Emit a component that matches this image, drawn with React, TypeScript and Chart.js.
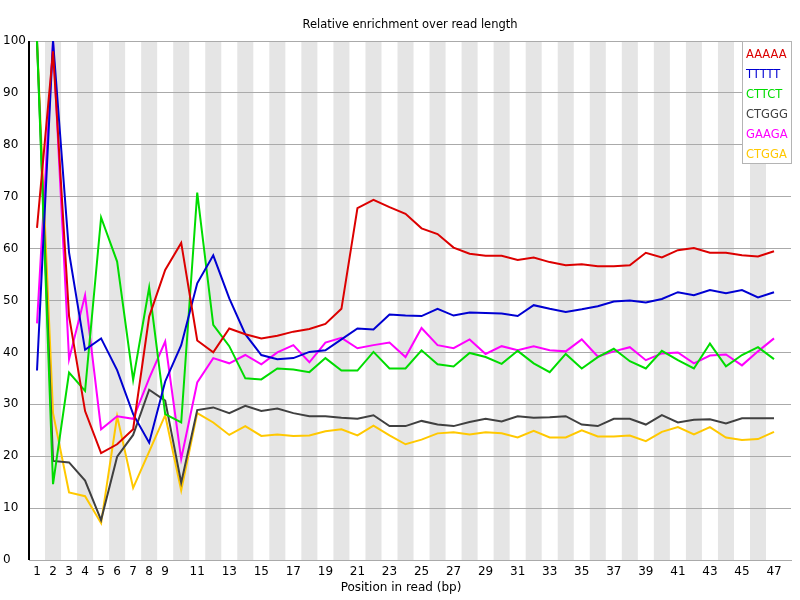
import React, { useEffect, useRef } from "react";
import { Chart, registerables } from "chart.js";

Chart.register(...registerables);

const positions = Array.from({ length: 47 }, (_, i) => i + 1);
const xTickValues = [1, 2, 3, 4, 5, 6, 7, 8, 9, 11, 13, 15, 17, 19, 21, 23, 25, 27, 29, 31, 33, 35, 37, 39, 41, 43, 45, 47];

const kmers = ["AAAAA", "TTTTT", "CTTCT", "CTGGG", "GAAGA", "CTGGA"];
const colors = ["#dc0000", "#0000d2", "#00dc00", "#404040", "#ff00ff", "#ffc800"];

const aaaaa = [64, 98, 47, 28.7, 20.6, 22.3, 25.2, 46.9, 55.9, 61.1, 42.3, 40, 44.6, 43.5, 42.7, 43.2, 44.0, 44.5, 45.5, 48.4, 67.8, 69.4, 68.0, 66.7, 63.9, 62.8, 60.2, 59.0, 58.6, 58.6, 57.8, 58.3, 57.4, 56.8, 57.0, 56.6, 56.6, 56.8, 59.2, 58.3, 59.7, 60.1, 59.2, 59.2, 58.7, 58.5, 59.5];
const ttttt = [36.5, 100, 59.2, 40.5, 42.7, 36.6, 28.1, 22.6, 34.4, 41.4, 53.3, 58.7, 50.4, 43.5, 39.5, 38.7, 38.9, 40.1, 40.4, 42.5, 44.6, 44.4, 47.3, 47.1, 47.0, 48.4, 47.1, 47.7, 47.6, 47.5, 47.0, 49.1, 48.4, 47.8, 48.3, 48.9, 49.8, 50.0, 49.6, 50.3, 51.6, 51.0, 52.0, 51.4, 52.0, 50.6, 51.6];
const cttct = [100, 14.6, 36.1, 32.6, 66.0, 57.5, 34.7, 52.5, 28.1, 26.5, 70.8, 45.3, 41.2, 35.0, 34.8, 36.9, 36.7, 36.2, 38.9, 36.5, 36.5, 40.1, 36.9, 36.9, 40.4, 37.7, 37.3, 39.9, 39.1, 37.8, 40.3, 37.9, 36.2, 39.7, 36.9, 39.1, 40.7, 38.3, 36.9, 40.3, 38.5, 36.9, 41.7, 37.3, 39.5, 41.0, 38.7];
const ctggg = [100, 19.1, 18.8, 15.3, 7.7, 19.9, 24.1, 32.8, 30.7, 14.9, 28.9, 29.4, 28.3, 29.7, 28.7, 29.2, 28.3, 27.7, 27.7, 27.4, 27.2, 27.9, 25.8, 25.8, 26.8, 26.1, 25.8, 26.6, 27.2, 26.7, 27.7, 27.4, 27.5, 27.7, 26.1, 25.8, 27.2, 27.2, 26.1, 27.9, 26.5, 27.0, 27.1, 26.3, 27.3, 27.3, 27.3];
const gaaga = [45.6, 100, 38.7, 51.0, 25.2, 27.7, 27.2, 35.0, 42.1, 19.5, 34.2, 38.9, 37.9, 39.5, 37.7, 40.0, 41.4, 38.1, 41.9, 42.8, 40.8, 41.4, 41.9, 39.1, 44.7, 41.4, 40.8, 42.5, 39.7, 41.2, 40.4, 41.2, 40.4, 40.2, 42.5, 39.2, 40.2, 41.0, 38.5, 39.8, 40.0, 37.9, 39.4, 39.6, 37.5, 40.2, 42.7];
const ctgga = [100, 28.3, 13.0, 12.3, 7.1, 27.7, 13.9, 20.9, 27.9, 13.4, 28.3, 26.5, 24.1, 25.8, 23.9, 24.2, 23.9, 24.0, 24.8, 25.2, 24.0, 25.9, 24.0, 22.3, 23.2, 24.4, 24.6, 24.2, 24.6, 24.4, 23.6, 24.9, 23.6, 23.6, 25.0, 23.8, 23.8, 24.0, 22.9, 24.7, 25.6, 24.2, 25.6, 23.6, 23.1, 23.3, 24.7];

const series = [aaaaa, ttttt, cttct, ctggg, gaaga, ctgga];
const FONT = "DejaVu Sans";

// white page, grey bands behind even positions (under the grid), title and boxed legend
const decorPlugin = {
	id: "decor",
	beforeDraw(chart: any) {
		const { ctx, chartArea, scales } = chart;
		const x = scales.x;
		ctx.save();
		ctx.fillStyle = "#ffffff";
		ctx.fillRect(0, 0, chart.width, chart.height);
		ctx.fillStyle = "#e5e5e5";
		for (const p of positions) {
			if (p % 2 !== 0) continue;
			const l = x.getPixelForValue(p - 0.5);
			const r = x.getPixelForValue(p + 0.5);
			ctx.fillRect(l, chartArea.top, r - l, chartArea.bottom - chartArea.top);
		}
		ctx.restore();
	},
	afterDraw(chart: any) {
		const { ctx, chartArea } = chart;
		ctx.save();
		// y axis line
		ctx.strokeStyle = "#000000";
		ctx.lineWidth = 2;
		ctx.beginPath();
		ctx.moveTo(chartArea.left, chartArea.top);
		ctx.lineTo(chartArea.left, chartArea.bottom);
		ctx.stroke();
		// titles
		ctx.fillStyle = "#000000";
		ctx.textAlign = "center";
		ctx.textBaseline = "middle";
		ctx.font = `11.5px '${FONT}'`;
		ctx.fillText("Relative enrichment over read length", (chartArea.left + chartArea.right) / 2, 25);
		ctx.font = `12px '${FONT}'`;
		ctx.fillText("Position in read (bp)", 401, 588);
		// legend
		const bx = chartArea.right - 49;
		const by = chartArea.top;
		ctx.fillStyle = "#ffffff";
		ctx.fillRect(bx, by, 49, 122);
		ctx.strokeStyle = "#b4b4b4";
		ctx.lineWidth = 1;
		ctx.strokeRect(bx + 0.5, by + 0.5, 49, 122);
		ctx.textAlign = "left";
		ctx.font = `11.5px '${FONT}'`;
		kmers.forEach((k, i) => {
			ctx.fillStyle = colors[i];
			ctx.fillText(k, bx + 4, by + 14 + i * 20);
		});
		ctx.restore();
	},
};

const App: React.FC = () => {
	const canvasRef = useRef<HTMLCanvasElement>(null);

	useEffect(() => {
		if (!canvasRef.current) return;
		const chart = new Chart(canvasRef.current, {
			type: "line",
			data: {
				datasets: series.map((s, i) => ({
					label: kmers[i],
					data: s.map((v, j) => ({ x: positions[j], y: v })),
					borderColor: colors[i],
					backgroundColor: colors[i],
					borderWidth: 2,
					pointRadius: 0,
					tension: 0,
				})),
			},
			options: {
				animation: false,
				responsive: false,
				layout: { padding: { left: 3, top: 41, right: 9, bottom: 0 } },
				plugins: {
					legend: { display: false },
					title: { display: false },
					tooltip: { enabled: false },
				},
				scales: {
					x: {
						type: "linear",
						min: 0.5,
						max: 48.06,
						afterFit: (s: any) => {
							s.height = 40;
						},
						afterBuildTicks: (s: any) => {
							s.ticks = xTickValues.map((v) => ({ value: v }));
						},
						grid: { display: false, drawTicks: false },
						border: { display: true, color: "#aaaaaa", width: 1 },
						ticks: {
							padding: 5,
							autoSkip: false,
							maxRotation: 0,
							color: "#000000",
							font: { family: FONT, size: 12 },
						},
					},
					y: {
						min: 0,
						max: 100,
						afterFit: (s: any) => {
							s.width = 26;
						},
						grid: { color: "#aaaaaa", drawTicks: false, lineWidth: 1 },
						border: { display: false },
						ticks: {
							stepSize: 10,
							crossAlign: "far",
							padding: 0,
							color: "#000000",
							font: { family: FONT, size: 12 },
						},
					},
				},
			},
			plugins: [decorPlugin],
		});
		return () => {
			chart.destroy();
		};
	}, []);

	return (
		<div style={{ position: "fixed", left: 0, top: 0, width: 800, height: 600 }}>
			<canvas ref={canvasRef} width={800} height={600} />
		</div>
	);
};

export default App;
